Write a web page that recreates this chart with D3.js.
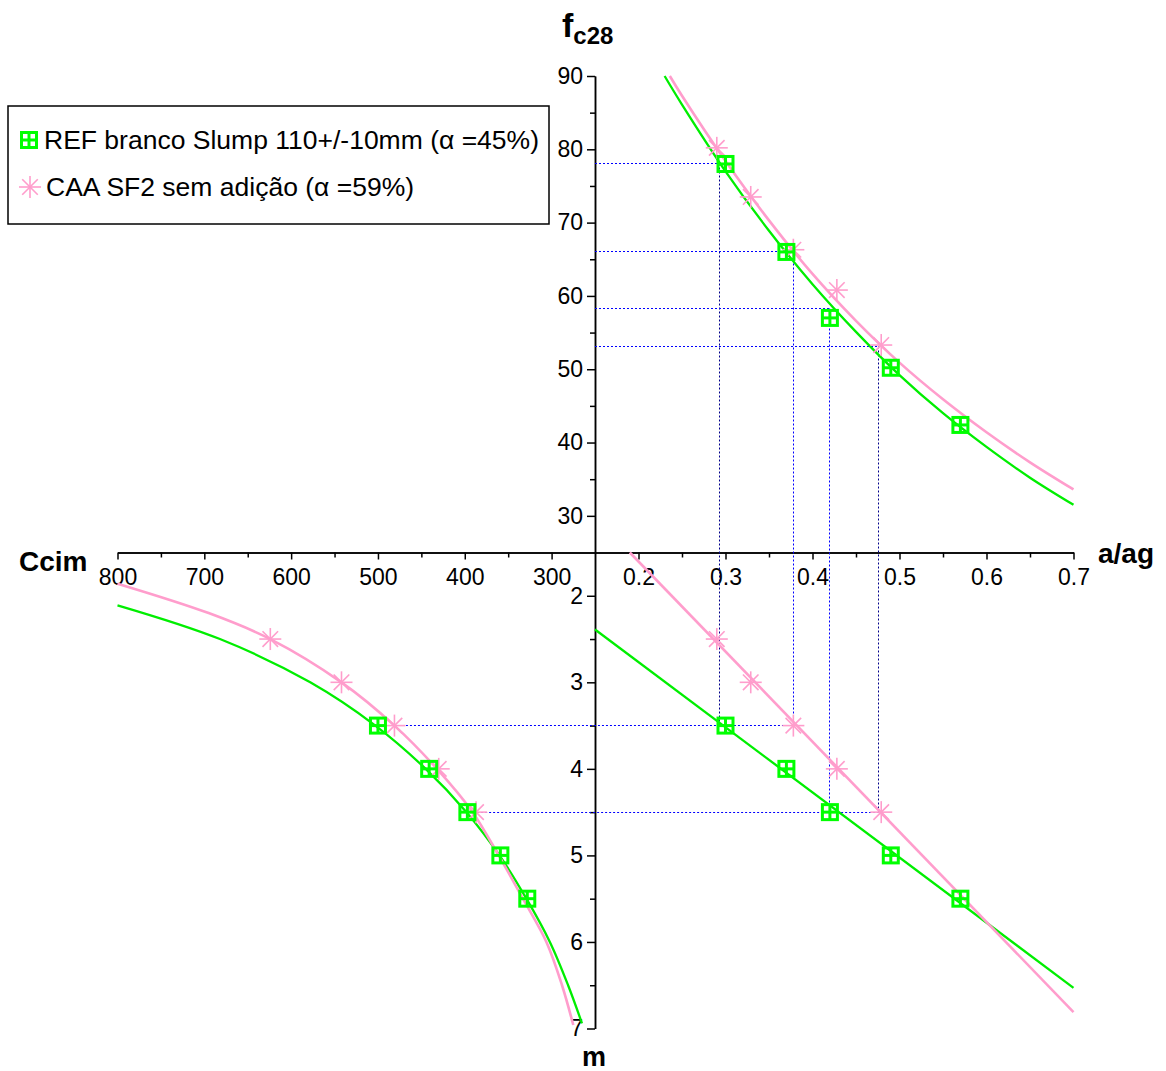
<!DOCTYPE html>
<html>
<head>
<meta charset="utf-8">
<script src="https://cdn.jsdelivr.net/npm/d3@7"></script>
<style>
body { margin: 0; background: #fff; }
svg { font-family: Arial, "Liberation Sans", sans-serif; display: block; }
</style>
</head>
<body>
<svg id="chart"></svg>
<script>
// series names (legend)
var seriesNames = ["REF branco Slump 110+/-10mm (\u03b1 =45%)", "CAA SF2 sem adi\u00e7\u00e3o (\u03b1 =59%)"];

// measured points - REF (green squares)
var refAag = [0.30, 0.37, 0.42, 0.49, 0.57];
var refFc = [78.0, 66.0, 57.0, 50.2, 42.4];
var refM = [3.5, 4.0, 4.5, 5.0, 5.5];
var refCcim = [500, 441, 397, 359, 328];

// measured points - CAA (pink stars)
var caaAag = [0.290, 0.329, 0.378, 0.428, 0.479];
var caaFc = [80.2, 73.5, 66.3, 60.8, 53.3];
var caaM = [2.5, 3.0, 3.5, 4.0, 4.5];
var caaCcim = [624, 542, 481, 430, 387];

// fitted curves - top right (fc28 vs a/ag)
var refCurveAag = [0.23, 0.25, 0.30, 0.35, 0.40, 0.45, 0.50, 0.55, 0.60, 0.65, 0.70];
var refCurveFc = [90, 86.1, 77.0, 68.9, 61.6, 55.1, 49.2, 44.0, 39.4, 35.2, 31.5];
var caaCurveAag = [0.236, 0.25, 0.30, 0.35, 0.40, 0.45, 0.50, 0.55, 0.60, 0.65, 0.70];
var caaCurveFc = [90, 87.3, 78.4, 70.3, 63.0, 56.6, 50.9, 45.9, 41.4, 37.3, 33.6];

// bottom right (m vs a/ag), straight lines
var refLineAag = [0.15, 0.70];
var refLineM = [2.39, 6.53];
var caaLineAag = [0.19, 0.70];
var caaLineM = [1.5, 6.81];

// bottom left (m vs Ccim)
var refLeftM = [2.11, 2.5, 3.0, 3.5, 4.0, 4.5, 5.0, 5.5, 6.0, 6.5, 6.94];
var refLeftCcim = [800, 682, 578, 503, 445, 398, 360, 329, 302, 281, 265];
var caaLeftM = [1.86, 2.2, 2.5, 3.0, 3.5, 4.0, 4.5, 5.0, 5.5, 6.0, 6.5, 6.96];
var caaLeftCcim = [800, 695, 624, 542, 481, 432, 391, 361, 333, 306, 288, 275];

// dotted guide lines
var guideFc = [78, 66, 58.3, 53.1];
var guideAag = [0.293, 0.378, 0.419, 0.476];
var guideM = [3.5, 3.5, 4.5, 4.5];
var guideRowM = [3.5, 4.5];
var guideRowCcim = [500, 395];
var guideRowAag = [0.378, 0.476];

// ticks
var fcTicks = [30, 40, 50, 60, 70, 80, 90];
var fcMinor = [35, 45, 55, 65, 75, 85];
var mTicks = [2, 3, 4, 5, 6, 7];
var mMinor = [2.5, 3.5, 4.5, 5.5, 6.5];
var ccimTicks = [300, 400, 500, 600, 700, 800];
var ccimMinor = [350, 450, 550, 650, 750];
var aagTicks = [0.2, 0.3, 0.4, 0.5, 0.6, 0.7];
var aagMinor = [0.25, 0.35, 0.45, 0.55, 0.65];

var width = 1166, height = 1071;
var green = "#00ff00", greenLine = "#00ee00", pink = "#ff9dcc";
var guideBlue = "#0000ff", guideNavy = "#00008b";

var svg = d3.select("#chart").attr("width", width).attr("height", height);
svg.append("rect").attr("width", width).attr("height", height).attr("fill", "#fff");

var xRight = d3.scaleLinear().domain([0.15, 0.7]).range([595, 1073.5]);
var xLeft = d3.scaleLinear().domain([800, 250]).range([117.5, 595]);
var yTop = d3.scaleLinear().domain([25, 90]).range([552.5, 76]);
var yBot = d3.scaleLinear().domain([1.5, 7]).range([552.5, 1028.5]);

var x0 = xRight(0.15), y0 = yTop(25);

// snap 1px lines onto pixel centres so the dots stay crisp
function px(v) { return Math.round(v - 0.5) + 0.5; }

function styleAxis(g) {
    g.attr("font-size", 23).attr("font-family", null);
    g.select(".domain").attr("stroke-width", 1.5);
    g.selectAll(".tick line").attr("stroke-width", 1.5);
}

// axes
svg.append("g").attr("transform", "translate(" + x0 + ",0)")
    .call(d3.axisLeft(yTop).tickValues(fcMinor).tickSize(5).tickFormat("").tickSizeOuter(0)).call(styleAxis);
svg.append("g").attr("transform", "translate(" + x0 + ",0)")
    .call(d3.axisLeft(yTop).tickValues(fcTicks).tickSize(8).tickPadding(4).tickSizeOuter(0)).call(styleAxis);

svg.append("g").attr("transform", "translate(" + x0 + ",0)")
    .call(d3.axisLeft(yBot).tickValues(mMinor).tickSize(5).tickFormat("").tickSizeOuter(0)).call(styleAxis);
svg.append("g").attr("transform", "translate(" + x0 + ",0)")
    .call(d3.axisLeft(yBot).tickValues(mTicks).tickSize(8).tickPadding(4).tickFormat(d3.format("d")).tickSizeOuter(0)).call(styleAxis);

svg.append("g").attr("transform", "translate(0," + y0 + ")")
    .call(d3.axisBottom(xLeft).tickValues(ccimMinor).tickSize(5).tickFormat("").tickSizeOuter(0)).call(styleAxis);
svg.append("g").attr("transform", "translate(0," + y0 + ")")
    .call(d3.axisBottom(xLeft).tickValues(ccimTicks).tickSize(7).tickPadding(9).tickSizeOuter(0)).call(styleAxis);

svg.append("g").attr("transform", "translate(0," + y0 + ")")
    .call(d3.axisBottom(xRight).tickValues(aagMinor).tickSize(5).tickFormat("").tickSizeOuter(0)).call(styleAxis);
svg.append("g").attr("transform", "translate(0," + y0 + ")")
    .call(d3.axisBottom(xRight).tickValues(aagTicks).tickSize(7).tickPadding(9).tickFormat(d3.format(".1f")).tickSizeOuter(0)).call(styleAxis);

// axis titles
var fcTitle = svg.append("text").attr("x", 562).attr("y", 37).attr("font-weight", "bold");
fcTitle.append("tspan").attr("font-size", 34).text("f");
fcTitle.append("tspan").attr("font-size", 24).attr("dy", 7).text("c28");

svg.append("text").attr("x", 19).attr("y", 571).attr("font-size", 28).attr("font-weight", "bold").text("Ccim");
svg.append("text").attr("x", 1098).attr("y", 563).attr("font-size", 28).attr("font-weight", "bold").text("a/ag");
svg.append("text").attr("x", 594).attr("y", 1066).attr("text-anchor", "middle")
    .attr("font-size", 27).attr("font-weight", "bold").text("m");

// dotted guides
var guides = svg.append("g").attr("fill", "none").attr("stroke-width", 1)
    .attr("stroke-dasharray", "2,2");
guideFc.forEach(function(fc, i) {
    guides.append("line")
        .attr("x1", x0).attr("x2", px(xRight(guideAag[i])))
        .attr("y1", px(yTop(fc))).attr("y2", px(yTop(fc)))
        .attr("stroke", guideBlue);
    guides.append("line")
        .attr("x1", px(xRight(guideAag[i]))).attr("x2", px(xRight(guideAag[i])))
        .attr("y1", px(yTop(fc))).attr("y2", px(yBot(guideM[i])))
        .attr("stroke", (i == 0 || i == 3) ? guideNavy : guideBlue);
});
guideRowM.forEach(function(m, i) {
    guides.append("line")
        .attr("x1", xLeft(guideRowCcim[i])).attr("x2", px(xRight(guideRowAag[i])))
        .attr("y1", px(yBot(m))).attr("y2", px(yBot(m)))
        .attr("stroke", guideBlue);
});

// curves
function drawCurve(xs, ys, sx, sy, color, w) {
    var line = d3.line()
        .x(function(d) { return sx(d[0]); })
        .y(function(d) { return sy(d[1]); })
        .curve(d3.curveCatmullRom);
    svg.append("path")
        .datum(d3.zip(xs, ys))
        .attr("d", line)
        .attr("fill", "none")
        .attr("stroke", color)
        .attr("stroke-width", w);
}

drawCurve(refCurveAag, refCurveFc, xRight, yTop, greenLine, 2.3);
drawCurve(caaCurveAag, caaCurveFc, xRight, yTop, pink, 2.6);
drawCurve(refLineAag, refLineM, xRight, yBot, greenLine, 2.3);
drawCurve(caaLineAag, caaLineM, xRight, yBot, pink, 2.6);
drawCurve(refLeftCcim, refLeftM, xLeft, yBot, greenLine, 2.3);
drawCurve(caaLeftCcim, caaLeftM, xLeft, yBot, pink, 2.6);

// markers
function squareMarker(g) {
    g.append("rect").attr("x", -7.5).attr("y", -7.5).attr("width", 15).attr("height", 15)
        .attr("fill", "none").attr("stroke", green).attr("stroke-width", 3);
    g.append("line").attr("x1", -7.5).attr("x2", 7.5).attr("y1", 0).attr("y2", 0)
        .attr("stroke", green).attr("stroke-width", 3);
    g.append("line").attr("x1", 0).attr("x2", 0).attr("y1", -7.5).attr("y2", 7.5)
        .attr("stroke", green).attr("stroke-width", 3);
}

function starMarker(g) {
    [0, 45, 90, 135].forEach(function(a) {
        g.append("line").attr("x1", -11).attr("x2", 11).attr("y1", 0).attr("y2", 0)
            .attr("transform", "rotate(" + a + ")")
            .attr("stroke", pink).attr("stroke-width", 1.6);
    });
}

function drawMarkers(xs, ys, sx, sy, marker) {
    svg.append("g").selectAll("g")
        .data(d3.zip(xs, ys))
        .enter()
        .append("g")
        .attr("transform", function(d) { return "translate(" + sx(d[0]) + "," + sy(d[1]) + ")"; })
        .each(function() { marker(d3.select(this)); });
}

drawMarkers(caaAag, caaFc, xRight, yTop, starMarker);
drawMarkers(caaAag, caaM, xRight, yBot, starMarker);
drawMarkers(caaCcim, caaM, xLeft, yBot, starMarker);
drawMarkers(refAag, refFc, xRight, yTop, squareMarker);
drawMarkers(refAag, refM, xRight, yBot, squareMarker);
drawMarkers(refCcim, refM, xLeft, yBot, squareMarker);

// legend
var legend = svg.append("g");
legend.append("rect").attr("x", 8).attr("y", 106).attr("width", 541).attr("height", 118)
    .attr("fill", "#fff").attr("stroke", "#000").attr("stroke-width", 1.5);
squareMarker(legend.append("g").attr("transform", "translate(29,140)"));
starMarker(legend.append("g").attr("transform", "translate(30,187)"));
legend.append("text").attr("x", 44).attr("y", 149).attr("font-size", 26.5).text(seriesNames[0]);
legend.append("text").attr("x", 46).attr("y", 196).attr("font-size", 26.5).text(seriesNames[1]);
</script>
</body>
</html>
